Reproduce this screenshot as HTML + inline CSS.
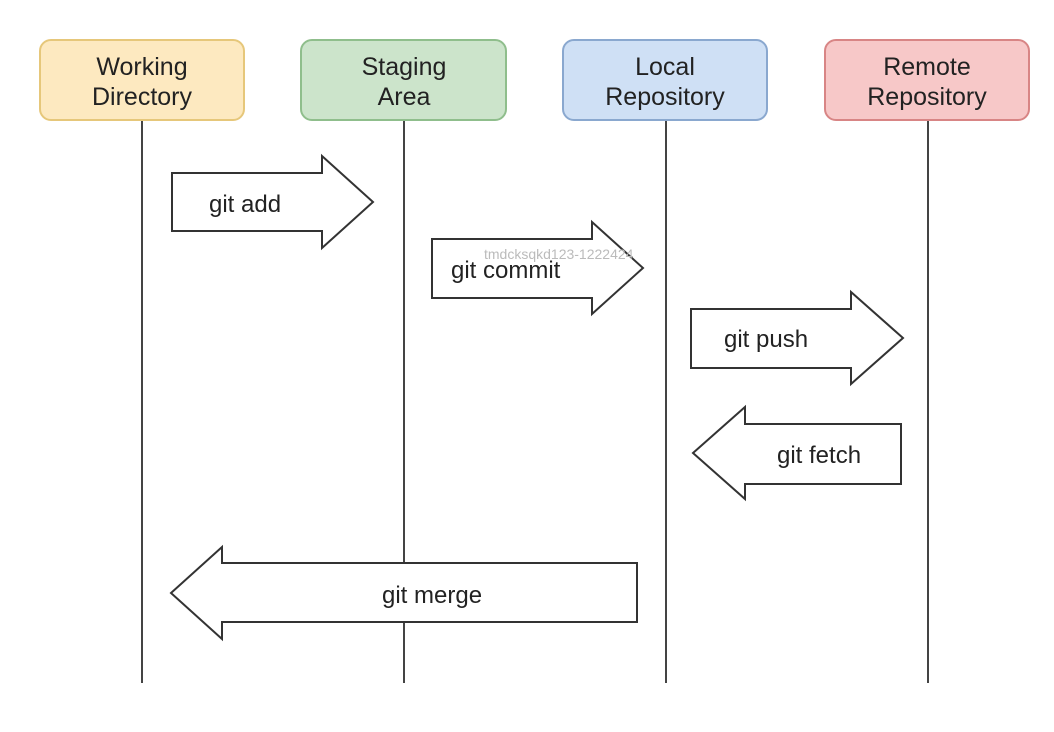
<!DOCTYPE html>
<html><head><style>
html,body{margin:0;padding:0;background:#fff;}
svg{display:block;}
text{font-family:"Liberation Sans",Arial,sans-serif;fill:#222;}
</style></head><body>
<svg width="1054" height="732" viewBox="0 0 1054 732" xmlns="http://www.w3.org/2000/svg">
<g stroke="#444" stroke-width="2">
<line x1="142" y1="120" x2="142" y2="683"/>
<line x1="404" y1="120" x2="404" y2="683"/>
<line x1="666" y1="120" x2="666" y2="683"/>
<line x1="928" y1="120" x2="928" y2="683"/>
</g>
<rect x="40" y="40" width="204" height="80" rx="11" fill="#fde9c0" stroke="#e6c77a" stroke-width="2"/>
<rect x="301" y="40" width="205" height="80" rx="11" fill="#cce4cb" stroke="#8fbe8c" stroke-width="2"/>
<rect x="563" y="40" width="204" height="80" rx="11" fill="#cfe0f5" stroke="#8aa8cf" stroke-width="2"/>
<rect x="825" y="40" width="204" height="80" rx="11" fill="#f7c8c8" stroke="#d88585" stroke-width="2"/>
<g font-size="25" text-anchor="middle">
<text x="142" y="75">Working</text><text x="142" y="105">Directory</text>
<text x="404" y="75">Staging</text><text x="404" y="105">Area</text>
<text x="665" y="75">Local</text><text x="665" y="105">Repository</text>
<text x="927" y="75">Remote</text><text x="927" y="105">Repository</text>
</g>
<g fill="#fff" stroke="#333" stroke-width="2">
<polygon points="172,173 322,173 322,156 373,202 322,248 322,231 172,231"/>
<polygon points="432,239 592,239 592,222 643,268 592,314 592,298 432,298"/>
<polygon points="691,309 851,309 851,292 903,338 851,384 851,368 691,368"/>
<polygon points="901,424 745,424 745,407 693,453 745,499 745,484 901,484"/>
<polygon points="637,563 222,563 222,547 171,593 222,639 222,622 637,622"/>
</g>
<g font-size="24">
<text x="209" y="212">git add</text>
<text x="451" y="278">git commit</text>
<text x="724" y="347">git push</text>
<text x="777" y="463">git fetch</text>
<text x="382" y="603">git merge</text>
</g>
<text x="484" y="259" font-size="14" style="fill:#bbb">tmdcksqkd123-1222424</text>
</svg>
</body></html>
